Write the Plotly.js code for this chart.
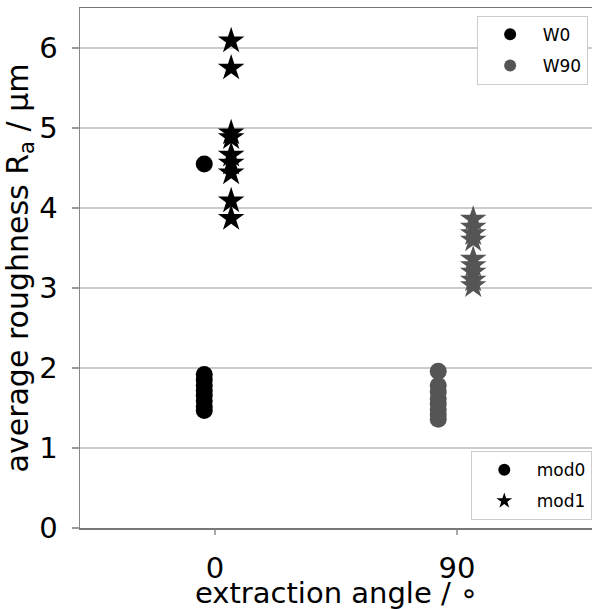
<!DOCTYPE html>
<html>
<head>
<meta charset="utf-8">
<script src="https://cdn.plot.ly/plotly-3.0.1.min.js"></script>
<style>html,body{margin:0;padding:0;background:#fff;overflow:hidden;}#chart{width:598px;height:609px;}</style>
</head>
<body>
<div id="chart"></div>
<script>
// Data
const w0Mod0X = [-4, -4, -4, -4, -4, -4, -4, -4, -4];
const w0Mod0Y = [4.55, 1.92, 1.85, 1.78, 1.72, 1.66, 1.59, 1.52, 1.47];
const w0Mod1X = [6, 6, 6, 6, 6, 6, 6, 6, 6];
const w0Mod1Y = [6.09, 5.75, 4.94, 4.88, 4.66, 4.56, 4.44, 4.09, 3.87];
const w90Mod0X = [83, 83, 83, 83, 83, 83, 83, 83];
const w90Mod0Y = [1.96, 1.78, 1.70, 1.62, 1.55, 1.48, 1.42, 1.36];
const w90Mod1X = [96, 96, 96, 96, 96, 96, 96, 96, 96];
const w90Mod1Y = [3.86, 3.76, 3.68, 3.60, 3.36, 3.28, 3.20, 3.10, 3.03];
const xTickVals = [0, 90];
const xTickText = ['0', '90'];
const yTickVals = [0, 1, 2, 3, 4, 5, 6];
const xTitle = 'extraction angle / ∘';
const yTitle = 'average roughness R<sub>a</sub> / μm';

const black = '#000000';
const grey = '#555555';
const font = 'DejaVu Sans, sans-serif';

const traces = [
  {x: w0Mod0X, y: w0Mod0Y, type: 'scatter', mode: 'markers', name: 'W0', legend: 'legend', legendgroup: 'a',
   marker: {symbol: 'circle', size: 17, color: black, line: {width: 0}}},
  {x: w90Mod0X, y: w90Mod0Y, type: 'scatter', mode: 'markers', name: 'W90', legend: 'legend', legendgroup: 'b',
   marker: {symbol: 'circle', size: 17, color: grey, line: {width: 0}}},
  {x: [null], y: [null], type: 'scatter', mode: 'markers', name: 'mod0', legend: 'legend2', legendgroup: 'c',
   marker: {symbol: 'circle', size: 17, color: black, line: {width: 0}}},
  {x: w0Mod1X, y: w0Mod1Y, type: 'scatter', mode: 'markers', name: 'mod1', legend: 'legend2', legendgroup: 'd',
   marker: {symbol: 'star', size: 20, color: black, line: {width: 0}}},
  {x: w90Mod1X, y: w90Mod1Y, type: 'scatter', mode: 'markers', name: 'W90 mod1', showlegend: false,
   marker: {symbol: 'star', size: 20, color: grey, line: {width: 0}}}
];

const legendCommon = {
  bgcolor: '#ffffff', bordercolor: '#cccccc', borderwidth: 1,
  font: {size: 17, family: font, color: '#000'}, itemsizing: 'constant',
  traceorder: 'grouped', tracegroupgap: 6, itemwidth: 55
};

const layout = {
  width: 598, height: 609,
  margin: {l: 80, r: 0, t: 8, b: 81},
  paper_bgcolor: '#ffffff', plot_bgcolor: '#ffffff',
  font: {family: font, color: '#000'},
  showlegend: true,
  xaxis: {
    range: [-50.2, 142.4], tickvals: xTickVals, ticktext: xTickText,
    showgrid: false, zeroline: false, showline: true, linecolor: '#777', linewidth: 1.5,
    mirror: true,
    ticks: 'outside', ticklen: 5, tickcolor: '#aaa', tickwidth: 1.5,
    ticklabelstandoff: 9,
    tickfont: {size: 29, family: font, color: '#000'}
  },
  yaxis: {
    range: [0, 6.5], tickvals: yTickVals,
    showgrid: true, gridcolor: '#cccccc', gridwidth: 1.5,
    zeroline: false, showline: true, linecolor: '#888', linewidth: 1.5,
    ticks: 'outside', ticklen: 7, tickcolor: '#999', tickwidth: 1.5,
    ticklabelstandoff: 8,
    tickfont: {size: 29, family: font, color: '#000'},
    title: {text: yTitle, font: {size: 30, family: font, color: '#000'}, standoff: 3}
  },
  annotations: [
    {text: xTitle, xref: 'x', x: 45, yref: 'paper', y: -0.125, xanchor: 'center', yanchor: 'middle',
     showarrow: false, font: {size: 29, family: font, color: '#000'}}
  ],
  legend: Object.assign({x: 0.98, xanchor: 'right', y: 0.985, yanchor: 'top'}, legendCommon),
  legend2: Object.assign({x: 0.988, xanchor: 'right', y: 0.015, yanchor: 'bottom'}, legendCommon)
};

Plotly.newPlot('chart', traces, layout, {staticPlot: true, displayModeBar: false});
</script>
</body>
</html>
